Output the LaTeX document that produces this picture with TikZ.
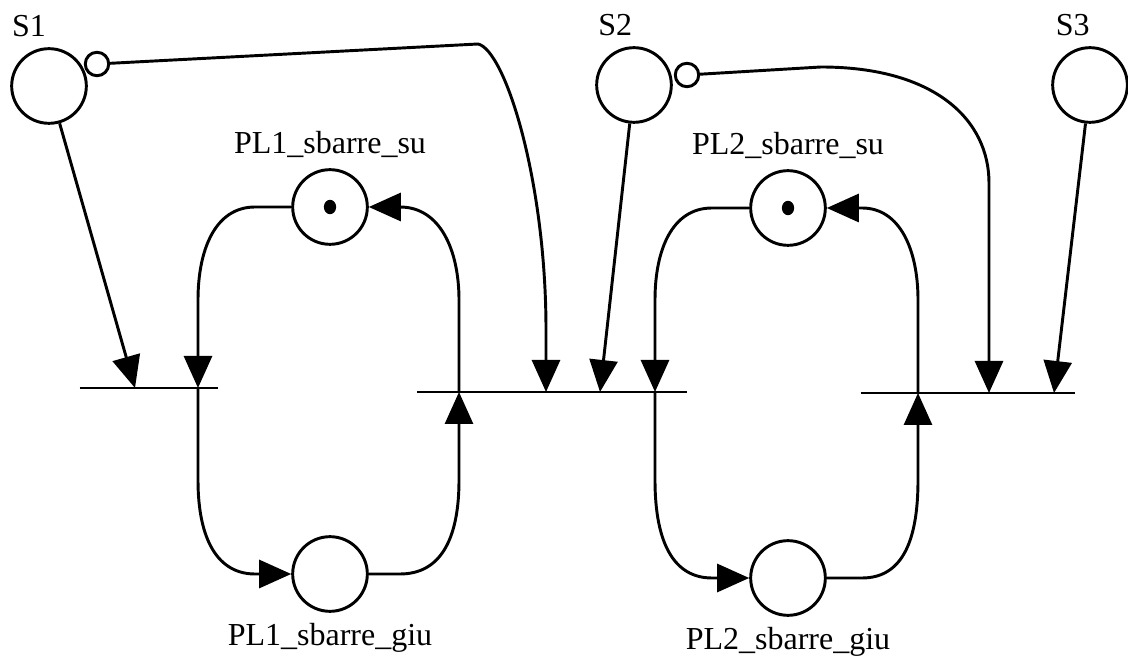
\documentclass[tikz,border=0pt]{standalone}
\usepackage{fontspec}
\setmainfont{Liberation Serif}
\usetikzlibrary{arrows.meta}

\begin{document}
\begin{tikzpicture}[x=0.375pt,y=-0.375pt,line width=1.1pt,font=\fontsize{12}{14}\selectfont]

\tikzset{place/.style = {shape=circle,draw,minimum size=28pt,inner sep=0pt}}
\tikzset{inhib/.style = {shape=circle,draw,minimum size=8.8pt,inner sep=0pt}}
\tikzset{bar/.style = {inner sep=0pt,minimum height=0pt}}
\tikzset{edge/.style = {->,> = {Triangle[length=12pt,width=10.5pt]}}}
\useasboundingbox (0,0) rectangle (1128,662);
%places
\node[place, label={[xshift=-7.5pt]above:S1}] (S1) at (49,86) {};
\node[place, label={[xshift=-7pt]above:S2}] (S2) at (634,85) {};
\node[place, label={[xshift=-6.5pt]above:S3}] (S3) at (1090,85) {};
\node[place, label=above:PL1\_sbarre\_su] (PL1su) at (330,207) {};
\node[place, label=below:PL1\_sbarre\_giu] (PL1giu) at (330,574) {};
\node[place, label=above:PL2\_sbarre\_su] (PL2su) at (788,208) {};
\node[place, label=below:PL2\_sbarre\_giu] (PL2giu) at (788,578) {};
\fill (PL1su) ellipse[x radius=2.3pt,y radius=2.7pt];
\fill (PL2su) ellipse[x radius=2.3pt,y radius=2.7pt];
\node[inhib] (I1) at (97,64) {};
\node[inhib] (I2) at (687,75) {};
%transitions
\node[bar, minimum width=51pt] (T1) at (149,388) {};
\node[bar, minimum width=100pt] (T2) at (552,392) {};
\node[bar, minimum width=79.5pt] (T3) at (968,393) {};
\draw (T1.west) -- (T1.east);
\draw (T2.west) -- (T2.east);
\draw (T3.west) -- (T3.east);
%arcs
\draw[edge] (S1) -- (135,0 |- T1);
\draw[edge] (S2) -- (600,0 |- T2);
\draw[edge] (S3) -- (1054,0 |- T3);
\draw[edge] (I1) -- (478,44) .. controls (505,50) and (546,180) .. (546,330) -- (546,0 |- T2);
\draw[edge] (I2) -- (821,67) .. controls (935,67) and (989,120) .. (989,183) -- (989,0 |- T3);
\draw[edge] (PL1su.west) -- (255,207) .. controls (215,207) and (198,250) .. (198,300) -- (198,0 |- T1);
\draw[edge] (198,0 |- T1) -- (198,480) .. controls (198,540) and (218,574) .. (255,574) -- (PL1giu.west);
\draw[edge] (PL1giu.east) -- (400,574) .. controls (440,574) and (459,540) .. (459,480) -- (459,0 |- T2);
\draw[edge] (459,0 |- T2) -- (459,300) .. controls (459,250) and (440,207) .. (400,207) -- (PL1su.east);
\draw[edge] (PL2su.west) -- (712,208) .. controls (672,208) and (655,250) .. (655,300) -- (655,0 |- T2);
\draw[edge] (655,0 |- T2) -- (655,480) .. controls (655,545) and (675,578) .. (712,578) -- (PL2giu.west);
\draw[edge] (PL2giu.east) -- (862,578) .. controls (900,578) and (918,545) .. (918,480) -- (918,0 |- T3);
\draw[edge] (918,0 |- T3) -- (918,300) .. controls (918,250) and (900,208) .. (862,208) -- (PL2su.east);

\end{tikzpicture}
\end{document}
